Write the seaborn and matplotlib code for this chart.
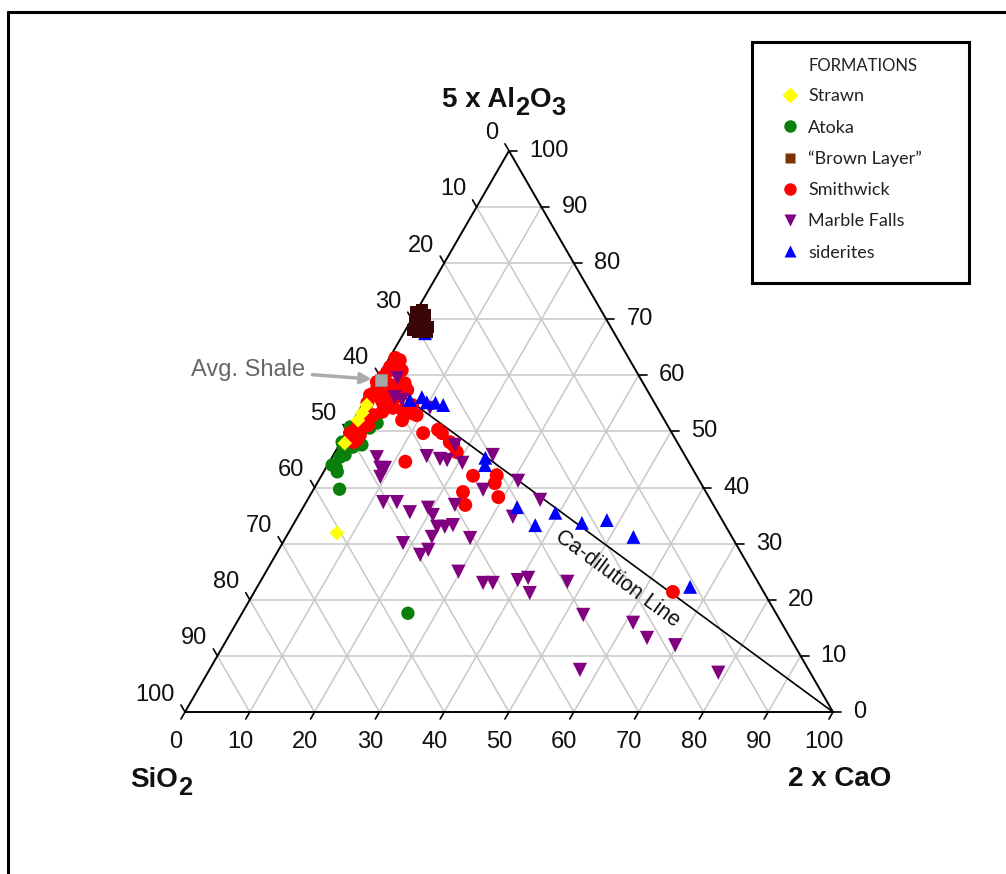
import numpy as np
import pandas as pd
import matplotlib
matplotlib.use("Agg")
import matplotlib.pyplot as plt
from matplotlib.lines import Line2D
from matplotlib.patches import Rectangle
from matplotlib.transforms import offset_copy
import seaborn as sns

# ── data: values ────────────────────────────────────────────
# each sample is (5 x Al2O3 %, 2 x CaO %), SiO2 = 100 - Al - Ca

strawn_al = [54.7, 53.3, 52.0, 47.9, 31.9]
strawn_ca = [0.7, 0.7, 0.7, 0.7, 7.5]

atoka_al = [50.8, 48.1, 47.0, 45.4, 44.0, 42.8, 39.7, 47.6, 51.5, 50.6,
            47.2, 17.6, 45.8, 43.5]
atoka_ca = [0.1, 0.2, 0.9, 1.2, 0.7, 2.1, 4.0, 3.5, 3.9, 3.2,
            2.3, 25.6, 1.8, 1.6]

brown_al = [71.3, 71.6, 70.7, 69.3, 69.5, 68.6, 68.1, 67.7, 67.7]
brown_ca = [0.0, 0.8, 1.7, 0.8, 1.8, 3.2, 1.1, 2.1, 3.5]

smith_al = [63.1, 62.7, 60.9, 61.5, 60.6, 59.7, 58.6, 57.4, 57.7, 56.5,
            55.1, 56.0, 56.5, 54.4, 54.2, 53.8, 53.3, 52.9, 52.0, 52.9,
            51.7, 50.6, 49.7, 49.4, 48.1, 49.7, 50.3, 49.7, 48.1, 47.6,
            53.5, 57.7, 60.6, 58.8, 58.3, 55.2, 44.6, 46.3, 42.1, 42.2,
            40.8, 39.2, 36.9, 38.3, 21.4, 48.5, 51.1, 56.0, 54.7]
smith_ca = [0.9, 1.8, 3.0, 0.9, 0.9, 0.7, 4.6, 5.6, 0.8, 0.3,
            0.6, 2.1, 3.1, 3.7, 5.0, 6.7, 8.1, 9.3, 7.5, 2.6,
            1.6, 1.2, 0.6, 2.3, 1.9, 11.9, 13.9, 14.8, 16.8, 17.6,
            3.7, 3.9, 2.6, 0.2, 2.5, 2.9, 11.7, 18.8, 23.4, 27.0,
            27.4, 23.3, 24.8, 29.2, 64.6, 2.3, 2.7, 4.4, 7.7]

marble_al = [59.5, 56.1, 55.6, 54.2, 45.4, 43.5, 43.5, 41.9, 45.6, 45.1,
             44.9, 47.6, 44.4, 45.8, 39.6, 41.2, 37.8, 34.8, 31.0, 37.4,
             37.4, 35.6, 36.4, 35.1, 36.9, 33.0, 33.0, 33.3, 31.2, 30.1,
             28.9, 28.0, 25.0, 23.0, 23.0, 23.5, 23.9, 21.2, 23.2, 17.3,
             15.9, 13.2, 11.9, 7.5, 7.0]
marble_ca = [3.0, 4.3, 5.7, 10.7, 6.9, 8.4, 9.1, 9.2, 14.5, 16.8,
             18.0, 17.9, 20.6, 24.6, 26.2, 30.8, 35.9, 33.2, 28.5, 11.9,
             14.0, 16.9, 19.3, 20.7, 23.2, 22.4, 23.6, 24.7, 22.5, 18.6,
             23.1, 22.3, 29.7, 34.5, 36.0, 39.6, 41.0, 42.6, 47.4, 52.8,
             61.2, 64.7, 69.7, 57.2, 78.8]

sider_al = [67.5, 55.6, 56.1, 55.2, 54.7, 55.1, 45.3, 44.0, 36.5, 35.5,
            33.3, 33.7, 34.2, 31.2, 22.3]
sider_ca = [3.3, 6.9, 8.5, 9.7, 12.5, 11.1, 23.7, 24.3, 33.0, 39.4,
            37.4, 44.4, 48.0, 53.6, 66.8]

shale_al = 59.2
shale_ca = 0.7

ticks = list(range(0, 101, 10))

# ── ternary -> cartesian (SiO2 bottom-left, CaO bottom-right, Al top) ──
H = np.sqrt(3) / 2


def tern(al, ca):
    al = np.asarray(al, dtype=float)
    ca = np.asarray(ca, dtype=float)
    return ca + al / 2, al * H


BROWN = "\u201cBrown Layer\u201d"
groups = [
    ("Atoka", atoka_al, atoka_ca),
    ("Smithwick", smith_al, smith_ca),
    ("Strawn", strawn_al, strawn_ca),
    ("Marble Falls", marble_al, marble_ca),
    ("siderites", sider_al, sider_ca),
    (BROWN, brown_al, brown_ca),
]
frames = []
for name, al, ca in groups:
    x, y = tern(al, ca)
    frames.append(pd.DataFrame({"x": x, "y": y, "formation": name}))
df = pd.concat(frames, ignore_index=True)

palette = {"Strawn": "#ffff00", "Atoka": "#0b7f0b", BROWN: "#3a0606",
           "Smithwick": "#ff0000", "Marble Falls": "#800080", "siderites": "#0000ff"}
markers = {"Strawn": "D", "Atoka": "o", BROWN: "s",
           "Smithwick": "o", "Marble Falls": "v", "siderites": "^"}
sizes = {"Strawn": 56, "Atoka": 92, BROWN: 70,
         "Smithwick": 100, "Marble Falls": 105, "siderites": 100}

# ── figure ───────────────────────────────────────────────────
sns.set_style("white")
plt.rcParams["font.family"] = ["Liberation Sans", "DejaVu Sans"]

fig = plt.figure(figsize=(10.06, 8.74), dpi=100)
ax = fig.add_axes([0, 0, 1, 1])
ax.set_xlim(-28.55, 126.70)
ax.set_ylim(-25.0, 109.88)
ax.axis("off")

# grid lines
grid_kw = dict(color="#c8c8c8", lw=1.1, zorder=1)
for k in ticks[1:-1]:
    x0, y0 = tern(k, 0)
    x1, y1 = tern(k, 100 - k)
    ax.plot([x0, x1], [y0, y1], **grid_kw)
    x0, y0 = tern(0, k)
    x1, y1 = tern(100 - k, k)
    ax.plot([x0, x1], [y0, y1], **grid_kw)
    x0, y0 = tern(0, 100 - k)
    x1, y1 = tern(100 - k, 0)
    ax.plot([x0, x1], [y0, y1], **grid_kw)

# triangle edges
vx, vy = tern([0, 0, 100, 0], [0, 100, 0, 0])
ax.plot(vx, vy, color="black", lw=1.4, zorder=2, solid_joinstyle="miter")

# ticks + tick labels
L = 1.25
lab_kw = dict(fontsize=17, color="#111111")
for k in ticks:
    # bottom: 2 x CaO
    x, y = tern(0, k)
    ax.plot([x, x - 0.5 * L], [y, y - H * L], color="black", lw=1.2, zorder=2)
    ax.text(x - 1.45, y - 4.6, str(k), ha="center", va="center", **lab_kw)
    # right: 5 x Al2O3
    x, y = tern(k, 100 - k)
    ax.plot([x, x + L], [y, y], color="black", lw=1.2, zorder=2)
    ax.text(x + 3.1, y, str(k), ha="left", va="center", **lab_kw)
    # left: SiO2
    x, y = tern(100 - k, 0)
    ax.plot([x, x - 0.5 * L], [y, y + H * L], color="black", lw=1.2, zorder=2)
    ax.text(x - 1.6, y + 2.7, str(k), ha="right", va="center", **lab_kw)

# vertex labels with big, dropped subscripts
renderer = fig.canvas.get_renderer()


def chem_label(x, y, parts, size=20):
    xoff = 0.0
    for s, sub in parts:
        fs = size * 0.92 if sub else size
        dy = -8 if sub else 0
        tr = offset_copy(ax.transData, fig=fig, x=xoff, y=dy, units="dots")
        t = ax.text(x, y, s, fontsize=fs, fontweight="bold", ha="left",
                    va="baseline", transform=tr, color="#111111")
        xoff += t.get_window_extent(renderer).width + 0.5


chem_label(39.6, 93.4, [("5 x Al", False), ("2", True), ("O", False), ("3", True)])
chem_label(-8.5, -11.6, [("SiO", False), ("2", True)])
chem_label(93.0, -11.4, [("2 x CaO", False)])

# Ca-dilution line from average shale to the CaO apex
sx, sy = tern(shale_al, shale_ca)
ax.plot([sx, 100], [sy, 0], color="black", lw=1.2, zorder=2)
ang = np.degrees(np.arctan2(-sy, 100 - sx))
t = 0.55
px, py = sx + t * (100 - sx), sy * (1 - t)
nx, ny = -np.sin(np.radians(-ang)), -np.cos(np.radians(-ang))
ax.text(px + 3.2 * nx, py + 3.2 * ny, "Ca-dilution Line", rotation=ang,
        rotation_mode="anchor", ha="center", va="center", fontsize=15.5,
        color="#111111", zorder=4)

# samples
sns.scatterplot(data=df, x="x", y="y", hue="formation", style="formation",
                size="formation", palette=palette, markers=markers, sizes=sizes,
                linewidth=0, edgecolor="none", alpha=1, legend=False, ax=ax,
                zorder=3)
ax.set_xlim(-28.55, 126.70)
ax.set_ylim(-25.0, 109.88)

# average shale
ax.scatter([sx], [sy], marker="s", s=70, color="#a6a6a6", edgecolor="#8c8c8c",
           linewidth=0.6, zorder=5)
ax.annotate("Avg. Shale", xy=(sx, sy), xytext=(9.7, 52.8), ha="center", va="center",
            fontsize=17, color="#666666",
            arrowprops=dict(arrowstyle="-|>", color="#ababab", lw=2.5,
                            shrinkA=3, shrinkB=7, mutation_scale=16))

# legend box
fig.add_artist(Rectangle((752 / 1006, 1 - 283 / 874), 217 / 1006, 241 / 874,
                         transform=fig.transFigure, fill=False, lw=2.2,
                         edgecolor="black"))
fig.text(809 / 1006, 1 - 66 / 874, "FORMATIONS", fontsize=12, family="Lato",
         color="#222222", ha="left", va="center")
legend_order = ["Strawn", "Atoka", BROWN, "Smithwick", "Marble Falls", "siderites"]
leg_colors = dict(palette)
leg_colors[BROWN] = "#7f3300"
leg_ms = {"Strawn": 8, "Atoka": 9, BROWN: 7.5, "Smithwick": 9,
          "Marble Falls": 8.5, "siderites": 8.5}
handles = [Line2D([], [], ls="none", marker=markers[n], color=leg_colors[n],
                  markeredgecolor="none", markersize=leg_ms[n]) for n in legend_order]
fig.legend(handles, legend_order, loc="center left",
           bbox_to_anchor=(781 / 1006, 1 - 174.5 / 874), frameon=False,
           handlelength=1.0, handletextpad=0.5, labelspacing=0.84, borderpad=0,
           borderaxespad=0, prop={"family": "Lato", "size": 13}, labelcolor="#222222")

# outer frame (left and top edges)
fig.add_artist(Line2D([8 / 1006, 8 / 1006], [0, 1 - 12 / 874],
                      transform=fig.transFigure, color="black", lw=2.2))
fig.add_artist(Line2D([8 / 1006, 1], [1 - 12 / 874, 1 - 12 / 874],
                      transform=fig.transFigure, color="black", lw=2.2))

fig.savefig("out.png", dpi=100)
